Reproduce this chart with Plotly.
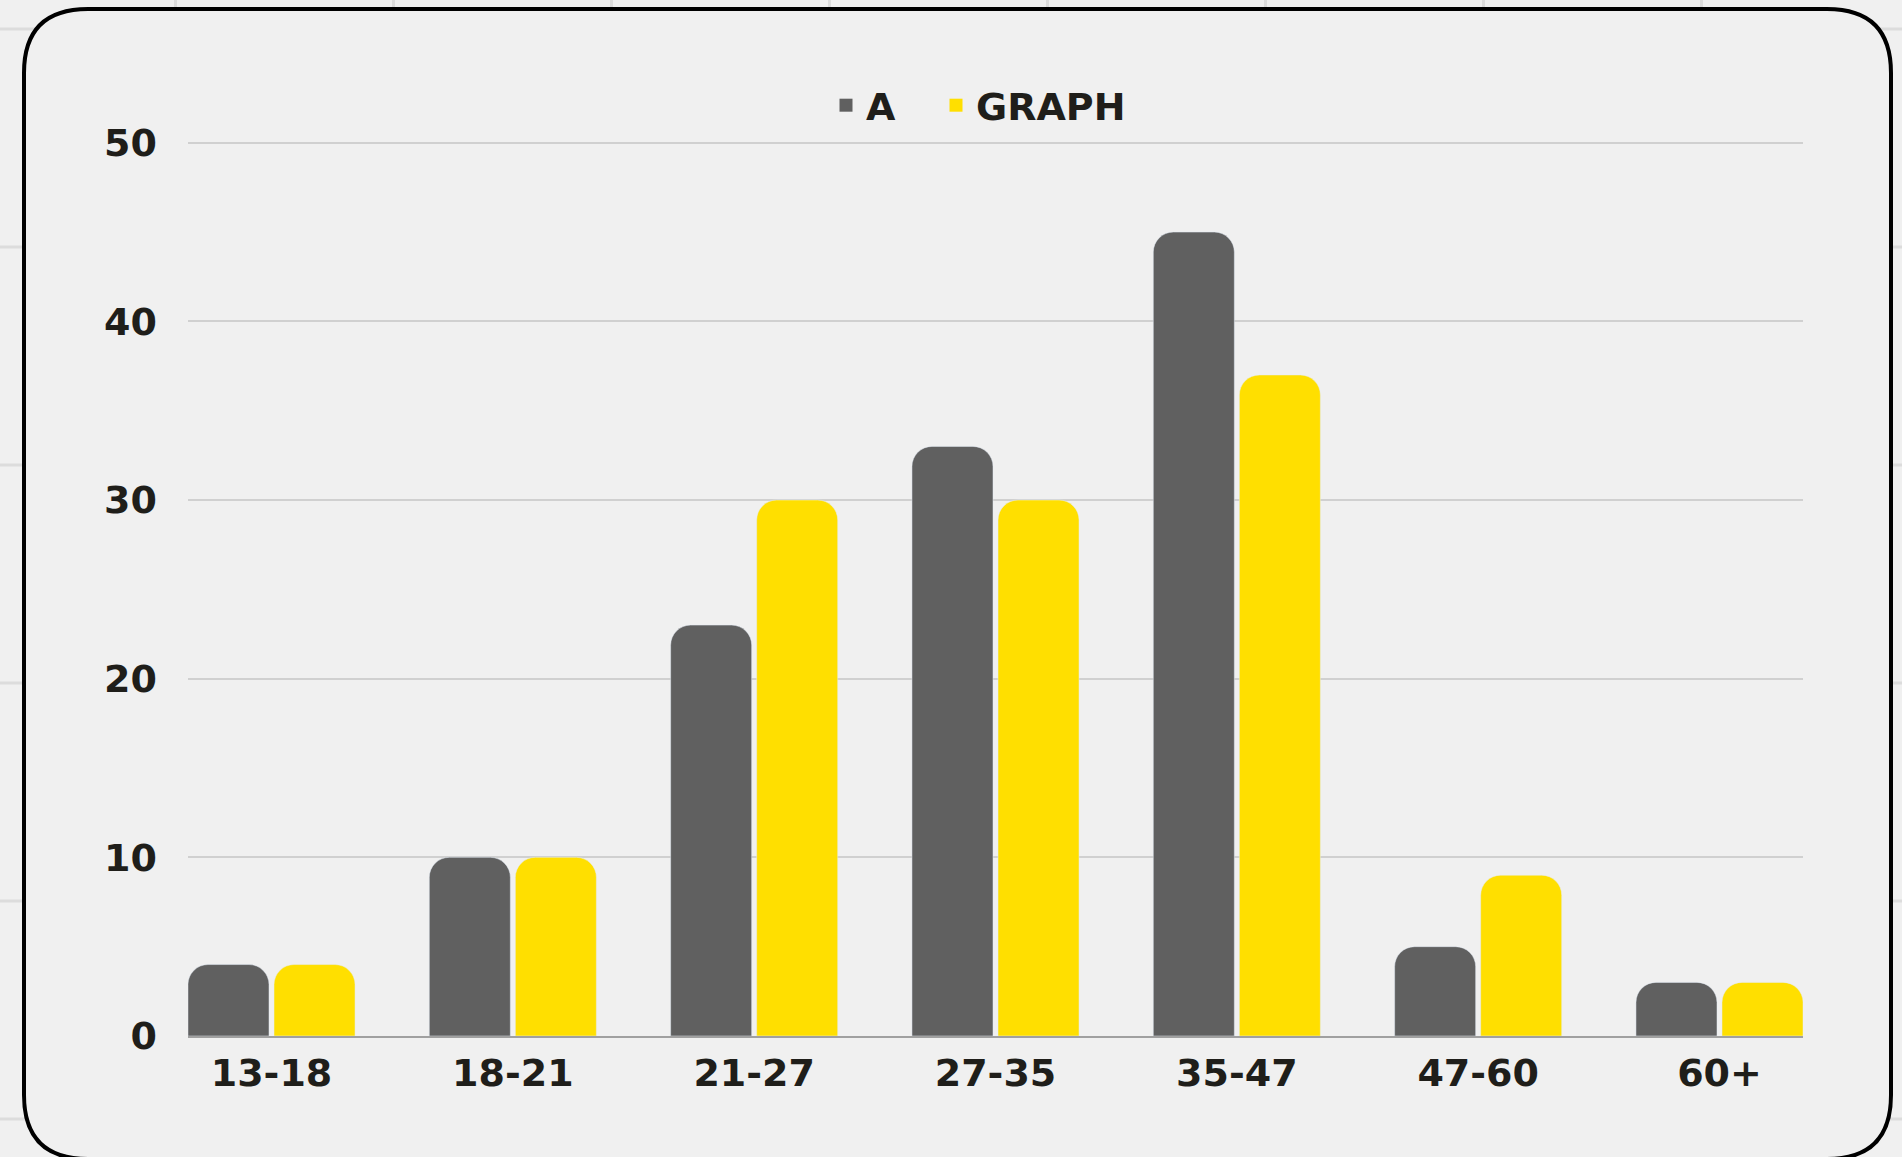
import plotly.graph_objects as go

# Age brackets and respondent counts per group
age_groups = ["13-18", "18-21", "21-27", "27-35", "35-47", "47-60", "60+"]
series_a = [4, 10, 23, 33, 45, 5, 3]
series_graph = [4, 10, 30, 30, 37, 9, 3]
y_ticks = [0, 10, 20, 30, 40, 50]
Y_MAX = 50.6

W, H = 1902, 1157
ZERO_Y, FIFTY_Y = 1036, 143          # pixel rows of the 0 and 50 gridlines
UNIT = (ZERO_Y - FIFTY_Y) / 50
M_L, M_R, M_B = 188, 99, H - ZERO_Y
M_T = round(ZERO_Y - Y_MAX * UNIT)
PW, PH = W - M_L - M_R, H - M_T - M_B

BG = "#f0f0f0"
TEXT = "#1f1e1a"
FONT = "DejaVu Sans"
FSIZE = 38
GREY, YELLOW = "#606060", "#ffdf00"


def px(x):
    return (x - M_L) / PW


def py(y):
    return (H - M_B - y) / PH


fig = go.Figure()
fig.add_bar(name="A", x=age_groups, y=series_a, showlegend=False,
            marker=dict(color=GREY, cornerradius=20))
fig.add_bar(name="GRAPH", x=age_groups, y=series_graph, showlegend=False,
            marker=dict(color=YELLOW, cornerradius=20))
# square legend swatches (markers only, no data)
fig.add_scatter(name="A", x=[None], y=[None], mode="markers", legend="legend",
                marker=dict(color=GREY, symbol="square", size=13))
fig.add_scatter(name="GRAPH", x=[None], y=[None], mode="markers", legend="legend2",
                marker=dict(color=YELLOW, symbol="square", size=13))

shapes = []
# faint spreadsheet-style cell grid behind the card
for k in range(9):
    gx = 175.5 + 218 * k
    shapes.append(dict(type="line", xref="paper", yref="paper", layer="below",
                       x0=px(gx), x1=px(gx), y0=py(-5), y1=py(H + 5),
                       line=dict(color="#dcdcdc", width=3)))
for k in range(6):
    gy = 29 + 218 * k
    shapes.append(dict(type="line", xref="paper", yref="paper", layer="below",
                       x0=px(-5), x1=px(W + 5), y0=py(gy), y1=py(gy),
                       line=dict(color="#dcdcdc", width=3)))

# rounded card outline
L, R, T, B, r = 24, 1891, 9, 1159, 64


def P(x, y):
    return f"{px(x)},{py(y)}"


path = (f"M{P(L + r, T)} L{P(R - r, T)} Q{P(R, T)} {P(R, T + r)} "
        f"L{P(R, B - r)} Q{P(R, B)} {P(R - r, B)} "
        f"L{P(L + r, B)} Q{P(L, B)} {P(L, B - r)} "
        f"L{P(L, T + r)} Q{P(L, T)} {P(L + r, T)} Z")
shapes.append(dict(type="path", xref="paper", yref="paper", layer="below",
                   path=path, fillcolor=BG, line=dict(color="#000000", width=4)))

legend_font = dict(family=FONT, size=FSIZE, color=TEXT, weight="bold")
legend_common = dict(orientation="h", xanchor="left", y=py(105.5), yanchor="middle",
                     font=legend_font, bgcolor="rgba(0,0,0,0)", itemclick=False,
                     itemdoubleclick=False)

fig.update_layout(
    width=W, height=H,
    margin=dict(l=M_L, r=M_R, t=M_T, b=M_B, pad=0),
    paper_bgcolor=BG, plot_bgcolor="rgba(0,0,0,0)",
    font=dict(family=FONT, size=FSIZE, color=TEXT, weight="bold"),
    barmode="group", bargap=0.287, bargroupgap=0.058,
    showlegend=True,
    legend=dict(x=px(826), **legend_common),
    legend2=dict(x=px(936), **legend_common),
    shapes=shapes,
    xaxis=dict(range=[-0.346, 6.346], showgrid=False, zeroline=False,
               showline=True, linecolor="#a0a0a0", linewidth=2,
               ticks="", ticklabelstandoff=2, fixedrange=True),
    yaxis=dict(range=[0, Y_MAX], tickvals=y_ticks, showgrid=True,
               gridcolor="#d0d0d0", gridwidth=1.5, zeroline=False,
               showline=False, ticks="", ticklabelstandoff=30, fixedrange=True),
)

fig.write_html("out.html", config=dict(displayModeBar=False))
